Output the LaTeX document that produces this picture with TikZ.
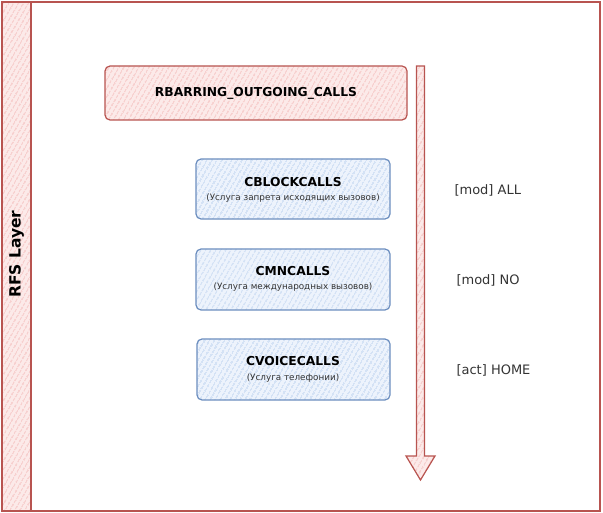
\documentclass[tikz,border=0pt]{standalone}
\usepackage{fontspec}
\setmainfont{DejaVu Sans}
\usetikzlibrary{patterns.meta}
\definecolor{redS}{HTML}{B85450}
\definecolor{redH}{HTML}{EFA3A0}
\definecolor{redF}{HTML}{FCEAE9}
\definecolor{blueS}{HTML}{6C8EBF}
\definecolor{blueH}{HTML}{A8C3EA}
\definecolor{blueF}{HTML}{EDF3FC}
\definecolor{txtG}{HTML}{333333}
\tikzset{
  redhatch/.style={draw=redS, line width=1.2pt, preaction={fill=redF}, pattern={Lines[angle=60,distance=4pt,line width=0.9pt]}, pattern color=redH},
  bluehatch/.style={draw=blueS, line width=1.2pt, preaction={fill=blueF}, pattern={Lines[angle=60,distance=4pt,line width=0.9pt]}, pattern color=blueH},
  rbox/.style={redhatch, rounded corners=5pt},
  cbox/.style={bluehatch, rounded corners=5pt},
  ttl/.style={font=\bfseries\fontsize{12.3}{14}\selectfont, text=black},
  sub/.style={font=\fontsize{8.8}{10}\selectfont, text=txtG},
  side/.style={font=\fontsize{13}{15}\selectfont, text=txtG, anchor=west}
}
\begin{document}
\begin{tikzpicture}[x=1pt,y=-1pt]
\useasboundingbox (0,0) rectangle (603,513);
% pool
\draw[redhatch] (2,2) rectangle (31,511);
\draw[draw=redS, line width=1.2pt] (31,2) rectangle (600,511);
\node[rotate=90, font=\bfseries\fontsize{15.5}{18}\selectfont] (pool) at (16.5,254) {RFS Layer};
% red box
\draw[rbox] (105,66) rectangle (407,120);
\node[ttl] (rb) at (256,93) {RBARRING\_OUTGOING\_CALLS};
% arrow
\draw[redhatch, line join=miter] (416.5,66) -- (424.5,66) -- (424.5,456) -- (435,456) -- (420.5,480) -- (406,456) -- (416.5,456) -- cycle;
% blue boxes
\draw[cbox] (196,159) rectangle (390,219);
\node[ttl] (c1) at (293,182) {CBLOCKCALLS};
\node[sub] (c1s) at (293,198) {(Услуга запрета исходящих вызовов)};
\draw[cbox] (196,249) rectangle (390,310);
\node[ttl] (c2) at (293,271) {CMNCALLS};
\node[sub] (c2s) at (293,287) {(Услуга международных вызовов)};
\draw[cbox] (197,339) rectangle (390,400);
\node[ttl] (c3) at (293,361) {CVOICECALLS};
\node[sub] (c3s) at (293,378) {(Услуга телефонии)};
% labels
\node[side] (l1) at (451,190) {[mod] ALL};
\node[side] (l2) at (453,280) {[mod] NO};
\node[side] (l3) at (453,370) {[act] HOME};
\end{tikzpicture}
\end{document}
